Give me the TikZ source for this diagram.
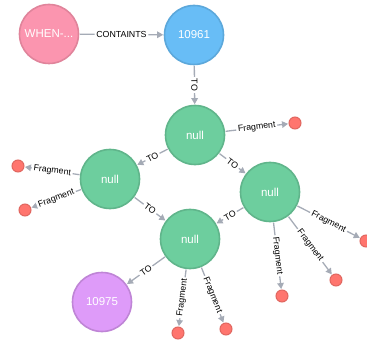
\documentclass[tikz,border=0pt]{standalone}
\usepackage{fontspec}
\setmainfont{Liberation Sans}
\usetikzlibrary{arrows.meta}

\definecolor{pinkfill}{HTML}{FB95AF}\definecolor{pinkline}{HTML}{E0849B}
\definecolor{bluefill}{HTML}{68BDF6}\definecolor{blueline}{HTML}{5CA8DB}
\definecolor{greenfill}{HTML}{6DCE9E}\definecolor{greenline}{HTML}{60B58B}
\definecolor{redfill}{HTML}{FF756E}\definecolor{redline}{HTML}{E06760}
\definecolor{purplefill}{HTML}{DE9BF9}\definecolor{purpleline}{HTML}{BF85D6}
\definecolor{relgray}{HTML}{A5ABB6}

\tikzset{
  entity/.style={circle, minimum size=59pt, inner sep=0pt, line width=1.6pt,
    text=white, font=\fontsize{11.5}{12}\selectfont},
  pinknode/.style={entity, fill=pinkfill, draw=pinkline},
  bluenode/.style={entity, fill=bluefill, draw=blueline},
  greennode/.style={entity, fill=greenfill, draw=greenline},
  purplenode/.style={entity, fill=purplefill, draw=purpleline},
  frag/.style={circle, minimum size=12pt, inner sep=0pt, line width=1pt,
    fill=redfill, draw=redline},
  rel/.style={draw=relgray, line width=1.3pt,
    -{Triangle[length=6pt,width=6.5pt]}, shorten >=0.5pt, shorten <=0.5pt},
  lbl/.style={midway, sloped, fill=white, inner sep=1.8pt, text=black,
    font=\fontsize{8.8}{9}\selectfont}
}

\begin{document}
\begin{tikzpicture}[x=1pt, y=-1pt]
\useasboundingbox (0,0) rectangle (367,342);

% main entities
\node[pinknode]   (when)  at (49,34)   {WHEN-...};
\node[bluenode]   (b10961) at (194,35) {10961};
\node[greennode]  (n1) at (195,135) {null};
\node[greennode]  (n2) at (110,179) {null};
\node[greennode]  (n3) at (270,192) {null};
\node[greennode]  (n4) at (190,239) {null};
\node[purplenode] (p10975) at (102,302) {10975};

% fragment dots
\node[frag] (f1) at (295,123) {};
\node[frag] (f2) at (18,166) {};
\node[frag] (f3) at (25,210) {};
\node[frag] (f4) at (366,241) {};
\node[frag] (f5) at (336,280) {};
\node[frag] (f6) at (282,296) {};
\node[frag] (f7) at (178,333) {};
\node[frag] (f8) at (226,329) {};

% relationships
\draw[rel] (when) -- node[lbl]{CONTAINTS} (b10961);
\draw[rel] (b10961) -- node[lbl]{TO} (n1);
\draw[rel] (n1) -- node[lbl]{Fragment} (f1);
\draw[rel] (n1) -- node[lbl]{TO} (n2);
\draw[rel] (n1) -- node[lbl]{TO} (n3);
\draw[rel] (n2) -- node[lbl]{Fragment} (f2);
\draw[rel] (n2) -- node[lbl]{Fragment} (f3);
\draw[rel] (n2) -- node[lbl]{TO} (n4);
\draw[rel] (n3) -- node[lbl]{TO} (n4);
\draw[rel] (n3) -- node[lbl]{Fragment} (f4);
\draw[rel] (n3) -- node[lbl]{Fragment} (f5);
\draw[rel] (n3) -- node[lbl]{Fragment} (f6);
\draw[rel] (n4) -- node[lbl]{TO} (p10975);
\draw[rel] (n4) -- node[lbl]{Fragment} (f7);
\draw[rel] (n4) -- node[lbl]{Fragment} (f8);
\end{tikzpicture}
\end{document}
